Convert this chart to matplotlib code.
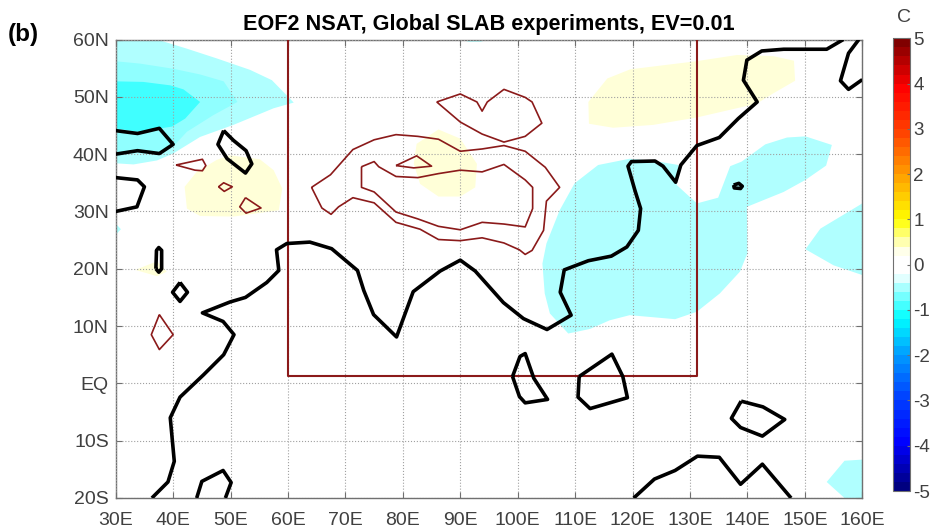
import matplotlib
matplotlib.use("Agg")
import matplotlib.pyplot as plt
from matplotlib.colors import LinearSegmentedColormap, Normalize
from matplotlib.cm import ScalarMappable

plt.rcParams['font.family'] = ['Liberation Sans', 'DejaVu Sans']

# tick labels
lon_ticks = list(range(30, 170, 10))
lon_labels = [f"{v}E" for v in lon_ticks]
lat_ticks = [-20, -10, 0, 10, 20, 30, 40, 50, 60]
lat_labels = ["20S", "10S", "EQ", "10N", "20N", "30N", "40N", "50N", "60N"]
cbar_ticks = [-5, -4, -3, -2, -1, 0, 1, 2, 3, 4, 5]

# filled anomaly regions (lon, lat)
cyan1_nw = [(30, 60), (37.2, 60), (42.4, 58.4), (47.6, 56.7), (53.4, 54.7), (57.2, 52.9), (61, 49),
            (57.5, 48), (50.5, 45.1), (44.7, 43), (40, 40.1), (37.2, 38.9), (33.1, 38.2), (30, 38.4)]
cyan2_nw = [(30, 56.2), (34.2, 55.8), (40, 54.9), (44.7, 53.9), (48.8, 52.7), (51.2, 49.1), (47, 46.8),
            (42.4, 43.9), (40, 41.3), (37.6, 40), (33.8, 40.4), (30, 39.8)]
cyan3_nw = [(30, 52.7), (34.8, 52.6), (39.5, 52), (41.8, 51.3), (44.7, 49.1), (42.1, 46.2), (39.8, 44.8),
            (33.8, 43.9), (30, 44.5)]
cyan1_edge = [(30, 27.9), (30.9, 26.9), (30, 25.9)]
cyan1_top = [(90, 60), (91.5, 59.6), (93.5, 59.6), (95, 60)]
cyan1_east = [(104.3, 20.9), (105, 24.4), (107.3, 30.2), (109.9, 34.9), (114, 38.1), (119.5, 39.2),
              (123.9, 38.8), (128, 38.1), (127.7, 34.6), (131.2, 31.4), (134.9, 32.4), (137, 37.9),
              (139, 38.7), (143.1, 41.7), (146.9, 42.9), (150.1, 43.1), (154.7, 41.6), (153.7, 38),
              (150.1, 35.5), (146.3, 33.4), (139.9, 30.8), (140, 22.7), (138.7, 19.5), (135.2, 15.7),
              (131.2, 12.5), (127.4, 11.2), (119.5, 11.9), (116, 11), (112.6, 9.5), (108.8, 8.7),
              (105.6, 12.2), (104.7, 15.7)]
cyan1_pacific = [(160, 31.4), (152.7, 27), (150.1, 23.4), (155, 20.6), (160, 18.9)]
cyan1_se = [(153.8, -17.2), (156.9, -13.5), (160, -13.3), (160, -20), (156.9, -20)]
yellow_arabia = [(47.6, 39), (49.9, 39.8), (55.1, 39.1), (57.5, 37.2), (59, 34), (58.4, 30.2), (50.5, 29.1),
                 (44.7, 29.2), (42.4, 30.5), (42, 34.3), (44.1, 36.9)]
yellow_africa = [(33.4, 19.8), (37.2, 21.3), (38.9, 19.5), (37.2, 18.7)]
yellow_tibet = [(82.4, 41.8), (86.2, 44.3), (90, 42.7), (92.9, 38.3), (92.6, 34.2), (90, 32.6), (86.2, 32.6),
                (83, 34.8), (81.9, 38.3)]
yellow_ne = [(112.3, 49.1), (115.6, 53.2), (119.6, 54.8), (131, 56.2), (138.2, 57.3), (144.5, 57.1),
             (148.1, 56.3), (148.3, 52.8), (144.5, 50.6), (141.6, 48.8), (131.2, 46.4), (123.6, 45.1),
             (116.6, 44.6), (112.4, 45.3)]

# dark red terrain contours, closed
red_north = [(85.9, 49.1), (90, 50.5), (92.9, 49.1), (93.8, 47.5), (94.7, 49.1), (97.6, 51.3), (101.3, 49.9),
             (102.5, 49.1), (104.2, 45.4), (101.3, 43.1), (97.6, 42.1), (93.8, 43.5), (90, 45.6)]
red_outer = [(64.1, 34.2), (67.4, 36.4), (71.3, 40.8), (75, 42.5), (78.8, 43.4), (82.6, 43.1), (86.2, 42.6),
             (90, 40.5), (93.8, 40.9), (97.6, 41.5), (101.3, 40.5), (104.8, 37.7), (107.3, 34.2), (105, 31.8),
             (104.5, 26.7), (102.5, 23.2), (101.3, 22.5), (100.3, 23.3), (97.6, 24.5), (93.8, 25.4), (90, 24.9),
             (86.2, 25.1), (83, 26.9), (78.8, 28.1), (75, 31.5), (71.3, 32.4), (68.8, 30.8), (67.5, 29.5),
             (65.9, 30.6)]
red_inner = [(72.8, 37.8), (75, 38.7), (75.8, 37.8), (78.8, 36.1), (82.6, 35.9), (86.2, 36.6), (90, 37.2),
             (93.8, 36.9), (97.6, 38.2), (101.3, 35.5), (102.6, 34.2), (102.6, 30.5), (101.3, 27.3), (97.6, 27.8),
             (93.8, 28.1), (90, 26.8), (86.2, 27.4), (82.6, 28.7), (78.8, 29.9), (75, 33.4), (72.8, 34.2)]
red_small = [(78.8, 38), (82.4, 39.7), (85, 37.9), (81.9, 37.6)]
red_g = [(40.5, 38.1), (45.1, 39.1), (45.7, 38), (45.1, 37.1), (43.8, 37.2)]
red_h = [(47.9, 34.3), (48.8, 35), (50.3, 34.3), (48.9, 33.5)]
red_i = [(52.6, 32.4), (55.3, 30.6), (52.7, 29.7), (51.6, 30.8)]
red_f = [(37.6, 12), (40, 8.5), (37.6, 5.9), (36.2, 8.5)]
box_lon = [60, 60, 131.3, 131.3]
box_lat = [60, 1.2, 1.2, 60]

# coarse coastline, open segments
coast_main = [(36.3, -20), (39.1, -17.2), (40.2, -13.6), (39.5, -6), (41.2, -2.4), (45.3, 1.5), (48.8, 5),
              (50.6, 8.5), (48.7, 10.8), (45.1, 12.3), (49.9, 14.2), (52.6, 15), (56.3, 17.6), (58.4, 19.7),
              (58, 23.3), (59.8, 24.4), (63.8, 24.65), (67.6, 23.5), (72.1, 19.7), (73.2, 16.2), (74.9, 12),
              (78.9, 8.1), (81.8, 16), (86.5, 19.6), (90, 21.5), (92.6, 19.6), (97.5, 14.1), (101, 11.3),
              (105.1, 9.4), (109.3, 11.9), (107.4, 15.9), (108.1, 19.8), (112.3, 21.4), (116.3, 22.2),
              (119, 23.8), (121, 26.7), (121.4, 30.5), (120.4, 33.7), (119.2, 37.9), (119.8, 38.7),
              (123.9, 38.8), (125.3, 37.9), (127.5, 35.1), (128.4, 38.1), (131.2, 41.5), (135.1, 42.9),
              (138.4, 46.2), (141.7, 49.1), (139.3, 52.9), (139.9, 56.4), (142.5, 58), (146.3, 58.3),
              (153.8, 58.3), (156.7, 60)]
coast_kamchatka = [(159.4, 60), (157.6, 57.6), (156.2, 52.8), (157.6, 51.3), (160, 53)]
coast_europe = [(30, 44.1), (33.8, 43.6), (37.6, 44.5), (40, 41.7), (37.6, 40.1), (33.8, 40.6), (30, 40)]
coast_med = [(30, 35.9), (33.8, 35.5), (35, 34.3), (33.7, 30.8), (30, 30)]
coast_madagascar = [(44.1, -20), (45, -17.1), (48.7, -15.2), (50.1, -17.3), (49.1, -20)]
coast_australia = [(120.2, -20), (123.8, -16.7), (127.4, -15.2), (131.3, -12.7), (135.1, -12.9), (138.8, -17.6),
                   (142.6, -14.1), (147.6, -20)]

# coastline, closed islands and lakes
loop_caspian = [(48.8, 44.1), (47.8, 41.7), (49.4, 39.2), (52.6, 36.7), (53.7, 38.3), (52.7, 40.6), (50.5, 42.4)]
loop_redsea = [(37, 20), (37.1, 23.2), (37.5, 23.7), (38, 23.2), (38, 20), (37.5, 19.4)]
loop_diamond = [(41.2, 17.6), (42.5, 15.9), (41.2, 14.3), (39.9, 15.9)]
loop_sumatra = [(99.1, 1.2), (100.4, 4.7), (101.3, 5.2), (102.8, 0.9), (105.2, -2.8), (101.3, -3.4), (100.3, -2.3)]
loop_borneo = [(110.7, 1.2), (116.4, 5.1), (118.3, 1.2), (119.1, -2.5), (112.6, -4.4), (110.5, -2.4)]
loop_guinea = [(138.9, -3.1), (142.7, -4.1), (146.5, -6.3), (142.6, -9.2), (138.8, -7.7), (137.2, -6.1)]
loop_japan = [(137.6, 34.6), (138.5, 34.9), (139.1, 34.4), (138.8, 34), (137.7, 34.1)]

# colorbar anchors
cmap_vals = [-5, -4, -3, -2, -1.2, -0.6, -0.2, 0.2, 0.4, 1, 2, 3, 4, 5]
cmap_cols = ["#000080", "#0000ff", "#0040ff", "#00a0ff", "#00ffff", "#90ffff", "#ffffff", "#ffffff",
             "#ffffd8", "#ffff00", "#ffa000", "#ff4000", "#ff0000", "#800000"]

CYAN1 = "#b0ffff"
CYAN2 = "#90ffff"
CYAN3 = "#40ffff"
YELLOW = "#ffffd8"
DARKRED = "#8b1a1a"
TEXT = "#404040"
EDGE = "#707070"


def fill_region(ax, pts, color):
    ax.fill([p[0] for p in pts], [p[1] for p in pts], color=color, lw=0, zorder=1)


def draw_line(ax, pts, color, lw, closed=False):
    if closed:
        pts = pts + pts[:1]
    ax.plot([p[0] for p in pts], [p[1] for p in pts], color=color, lw=lw, zorder=4,
            solid_joinstyle="round", solid_capstyle="butt")


fig = plt.figure(figsize=(9.31, 5.30), dpi=100)
ax = fig.add_axes([115.7 / 931, 32 / 530, 746.6 / 931, 458.5 / 530])

for pts in [cyan1_nw, cyan1_edge, cyan1_top, cyan1_east, cyan1_pacific, cyan1_se]:
    fill_region(ax, pts, CYAN1)
fill_region(ax, cyan2_nw, CYAN2)
fill_region(ax, cyan3_nw, CYAN3)
for pts in [yellow_arabia, yellow_africa, yellow_tibet, yellow_ne]:
    fill_region(ax, pts, YELLOW)

for pts in [red_north, red_outer, red_inner, red_small, red_g, red_h, red_i, red_f]:
    draw_line(ax, pts, DARKRED, 1.2, closed=True)
ax.plot(box_lon, box_lat, color=DARKRED, lw=1.5, zorder=3)

for pts in [coast_main, coast_kamchatka, coast_europe, coast_med, coast_madagascar, coast_australia]:
    draw_line(ax, pts, "black", 2.6)
for pts in [loop_caspian, loop_redsea, loop_diamond, loop_sumatra, loop_borneo, loop_guinea, loop_japan]:
    draw_line(ax, pts, "black", 2.6, closed=True)

ax.set_xlim(30, 160)
ax.set_ylim(-20, 60)
ax.set_xticks(lon_ticks)
ax.set_xticklabels(lon_labels)
ax.set_yticks(lat_ticks)
ax.set_yticklabels(lat_labels)
ax.grid(True, color="#a0a0a0", ls=":", lw=0.8, zorder=2)
ax.set_axisbelow(False)
ax.tick_params(direction="in", length=4, width=0.8, color=EDGE, labelcolor=TEXT, labelsize=14,
               top=True, right=True, pad=5)
ax.tick_params(axis="x", pad=10)
for s in ax.spines.values():
    s.set_color(EDGE)
    s.set_linewidth(1.0)

ax.set_title("EOF2 NSAT, Global SLAB experiments, EV=0.01", fontsize=15.6, fontweight="bold", pad=7)
fig.text(8 / 931, 1 - 34 / 530, "(b)", fontsize=17.5, fontweight="bold", va="center", ha="left")

# colorbar
norm = Normalize(-5, 5)
anchors = [((v + 5) / 10, c) for v, c in zip(cmap_vals, cmap_cols)]
cmap = LinearSegmentedColormap.from_list("eof_jet", anchors, N=50)
cax = fig.add_axes([893.3 / 931, 1 - 491 / 530, 16.7 / 931, 452.7 / 530])
cb = fig.colorbar(ScalarMappable(norm=norm, cmap=cmap), cax=cax, ticks=cbar_ticks)
cb.ax.set_yticklabels([str(v) for v in cbar_ticks])
cb.ax.tick_params(direction="in", length=2.5, width=0.8, color=EDGE, labelcolor=TEXT, labelsize=13.5, pad=2.5)
cb.outline.set_edgecolor(EDGE)
cb.outline.set_linewidth(0.8)
fig.text(904 / 931, 1 - 18 / 530, "C", fontsize=14, color=TEXT, ha="center", va="center")

fig.savefig("out.png", dpi=100)
